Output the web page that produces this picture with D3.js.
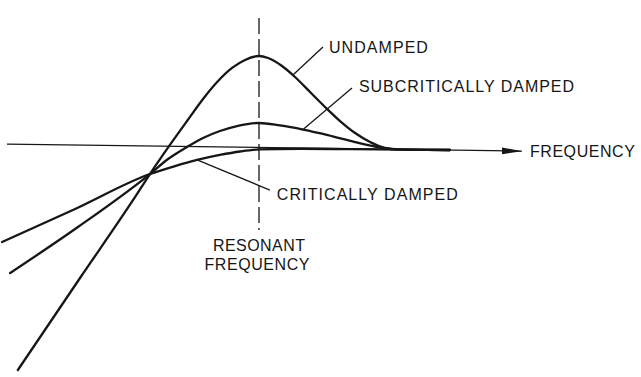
<!DOCTYPE html>
<html>
<head>
<meta charset="utf-8">
<script src="https://cdn.jsdelivr.net/npm/d3@7"></script>
<style>
  html, body { margin: 0; padding: 0; background: #fff; }
  svg { display: block; }
  text { font-family: "Liberation Sans", Arial, sans-serif; font-size: 16px; fill: #161616; }
</style>
</head>
<body>
<svg id="chart" width="641" height="377"></svg>
<script>
// frequency f (relative to resonance = 1), response amplitude a (undamped peak = 1)
const undamped = [
  [0.069, -2.413], [0.309, -1.413], [0.514, -0.565], [0.579, -0.283], [0.656, 0.033],
  [0.722, 0.293], [0.784, 0.533], [0.842, 0.728], [0.896, 0.870], [0.946, 0.957],
  [1.000, 1.000], [1.035, 0.978], [1.089, 0.891], [1.139, 0.772], [1.197, 0.609],
  [1.255, 0.446], [1.313, 0.293], [1.371, 0.163], [1.429, 0.065], [1.486, 0.000],
  [1.544, -0.016], [1.737, -0.022]
];
const subcritical = [
  [0.039, -1.359], [0.301, -0.859], [0.579, -0.283], [0.649, -0.120], [0.722, 0.011],
  [0.784, 0.109], [0.849, 0.185], [0.915, 0.239], [1.000, 0.272], [1.081, 0.245],
  [1.170, 0.201], [1.266, 0.141], [1.371, 0.065], [1.448, 0.016], [1.525, -0.016],
  [1.737, -0.022]
];
const critical = [
  [0.008, -1.022], [0.290, -0.663], [0.579, -0.283], [0.676, -0.196], [0.761, -0.130],
  [0.849, -0.076], [0.927, -0.038], [1.000, -0.016], [1.158, -0.008], [1.351, -0.013],
  [1.737, -0.022]
];
const axisLine = [[0.027, 0.043], [2.015, -0.034]];
const resonance = [[1.0, 1.413], [1.0, -0.891]];
const leaders = [
  [[1.131, 0.793], [1.247, 1.098]],
  [[1.170, 0.201], [1.359, 0.652]],
  [[0.761, -0.130], [1.042, -0.457]]
];
const labels = [
  { text: "UNDAMPED", f: 1.270, a: 1.033, w: 99, anchor: "start" },
  { text: "SUBCRITICALLY DAMPED", f: 1.386, a: 0.609, w: 215, anchor: "start" },
  { text: "CRITICALLY DAMPED", f: 1.069, a: -0.565, w: 181, anchor: "start" },
  { text: "FREQUENCY", f: 2.046, a: -0.098, w: 105, anchor: "start" },
  { text: "RESONANT", f: 1.0, a: -1.120, w: 92, anchor: "middle" },
  { text: "FREQUENCY", f: 0.992, a: -1.326, w: 105, anchor: "middle" }
];

const svg = d3.select("#chart");
const x = d3.scaleLinear().domain([0, 2]).range([0, 518]);
const y = d3.scaleLinear().domain([0, 1]).range([148, 56]);

const ink = "#161616";

const defs = svg.append("defs");
defs.append("marker")
  .attr("id", "arrow")
  .attr("viewBox", "0 0 20 8")
  .attr("refX", 20).attr("refY", 4)
  .attr("markerWidth", 20).attr("markerHeight", 8)
  .attr("markerUnits", "userSpaceOnUse")
  .attr("orient", "auto")
  .append("path")
  .attr("d", "M0,0.6 L20,4 L0,7.4 Z")
  .attr("fill", ink);

const straight = d3.line().x(d => x(d[0])).y(d => y(d[1]));
const smooth = d3.line().x(d => x(d[0])).y(d => y(d[1])).curve(d3.curveMonotoneX);

// frequency axis
svg.append("path").datum(axisLine)
  .attr("d", straight).attr("fill", "none")
  .attr("stroke", ink).attr("stroke-width", 1.3)
  .attr("marker-end", "url(#arrow)");

// resonant frequency dashed line
svg.append("path").datum(resonance)
  .attr("d", straight).attr("fill", "none")
  .attr("stroke", ink).attr("stroke-width", 1.3)
  .attr("stroke-dasharray", "16,5");

// leader lines
svg.selectAll(".leader").data(leaders).enter().append("path")
  .attr("class", "leader")
  .attr("d", straight).attr("fill", "none")
  .attr("stroke", ink).attr("stroke-width", 1.3);

// response curves
[critical, subcritical, undamped].forEach(series => {
  svg.append("path").datum(series)
    .attr("d", smooth).attr("fill", "none")
    .attr("stroke", ink).attr("stroke-width", 2.3)
    .attr("stroke-linejoin", "round").attr("stroke-linecap", "round");
});

// labels
svg.selectAll(".lbl").data(labels).enter().append("text")
  .attr("class", "lbl")
  .attr("x", d => x(d.f)).attr("y", d => y(d.a))
  .attr("text-anchor", d => d.anchor)
  .attr("textLength", d => d.w)
  .attr("lengthAdjust", "spacing")
  .text(d => d.text);
</script>
</body>
</html>
